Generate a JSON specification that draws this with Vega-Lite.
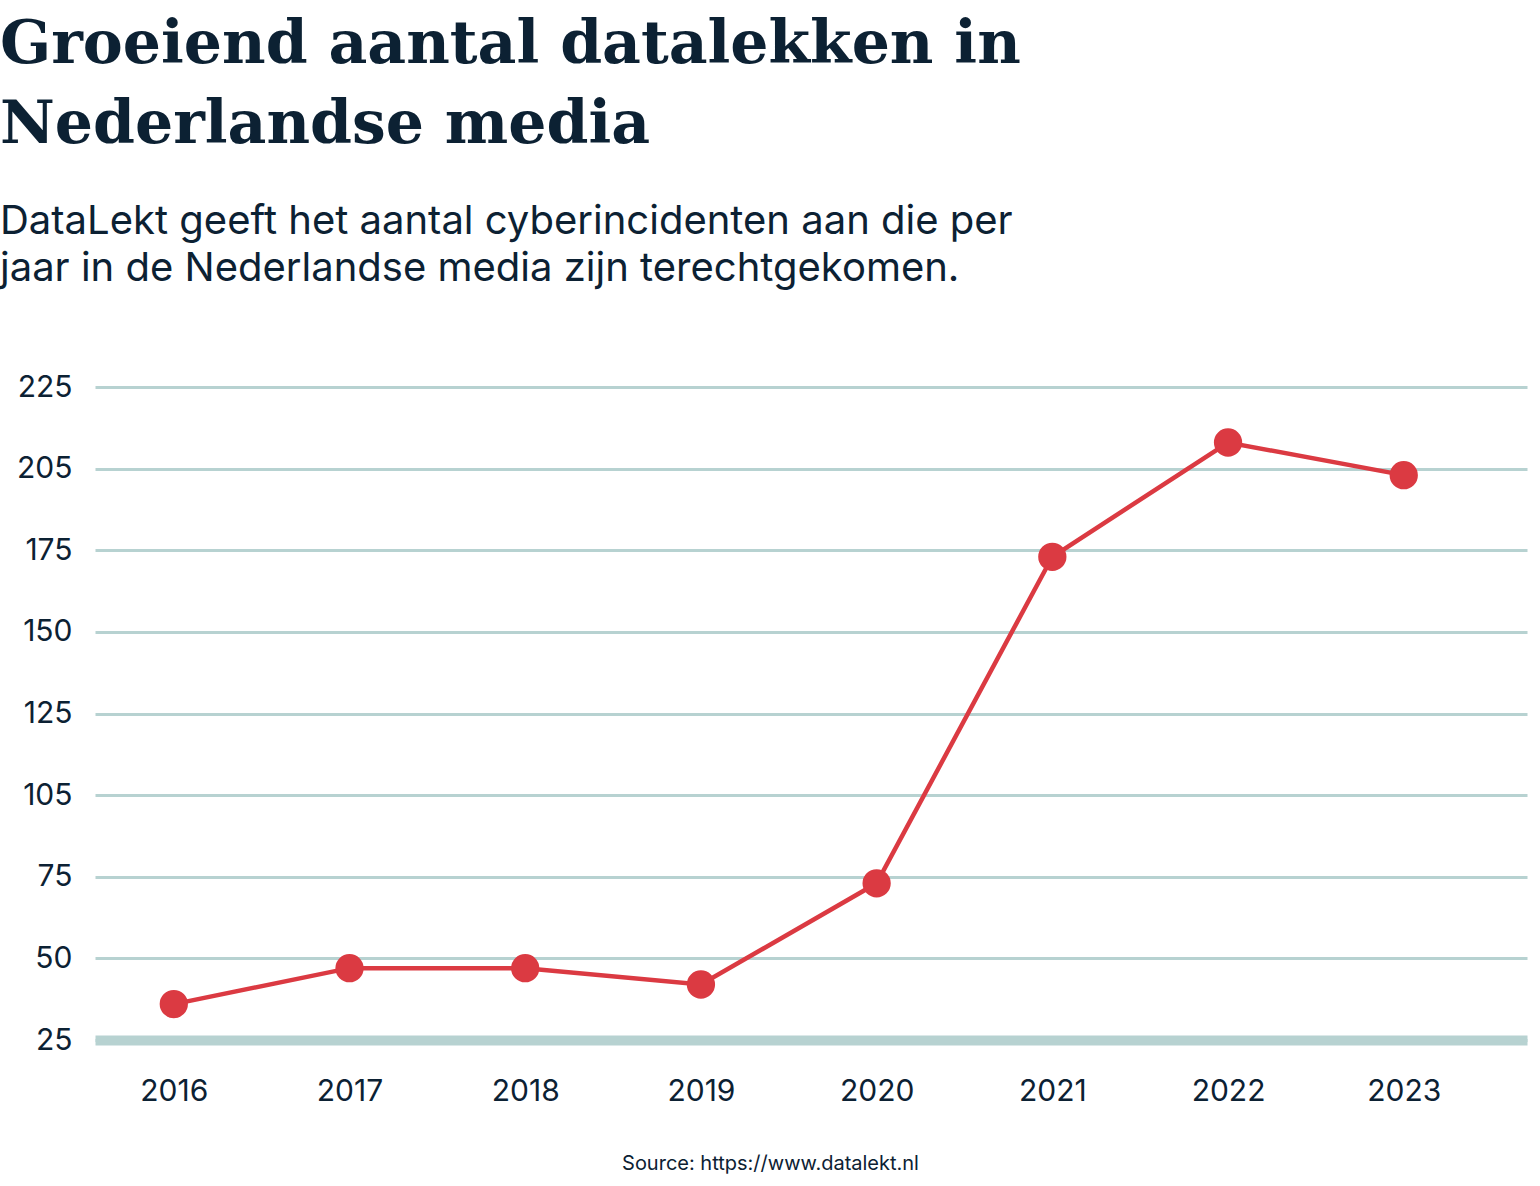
{
  "$schema": "https://vega.github.io/schema/vega-lite/v6.json",
  "autosize": {"type": "none"},
  "width": 1432,
  "height": 653,
  "padding": {"left": 95, "top": 387, "right": 13, "bottom": 146},
  "background": "white",
  "title": {
    "text": ["Groeiend aantal datalekken in", "Nederlandse media"],
    "subtitle": ["DataLekt geeft het aantal cyberincidenten aan die per", "jaar in de Nederlandse media zijn terechtgekomen."],
    "anchor": "start",
    "frame": "group",
    "dx": -95,
    "offset": 82,
    "font": "DejaVu Serif",
    "fontSize": 60,
    "fontWeight": "bold",
    "lineHeight": 80,
    "color": "#0c2133",
    "subtitleFont": "Inter",
    "subtitleFontSize": 40,
    "subtitleLineHeight": 47,
    "subtitleColor": "#0c2133",
    "subtitlePadding": 46
  },
  "data": {
    "values": [
      {"Jaar": "2016", "Aantal": 36},
      {"Jaar": "2017", "Aantal": 47},
      {"Jaar": "2018", "Aantal": 47},
      {"Jaar": "2019", "Aantal": 42},
      {"Jaar": "2020", "Aantal": 73},
      {"Jaar": "2021", "Aantal": 173},
      {"Jaar": "2022", "Aantal": 208},
      {"Jaar": "2023", "Aantal": 198}
    ]
  },
  "encoding": {
    "x": {
      "field": "Jaar",
      "type": "ordinal",
      "scale": {"type": "point", "padding": 0.575, "align": 0.39},
      "axis": {
        "title": "Source: https://www.datalekt.nl",
        "titleFont": "Inter",
        "titleFontSize": 20,
        "titleFontWeight": "normal",
        "titleColor": "#0c2133",
        "titleX": 675,
        "titleY": 123,
        "titleBaseline": "middle",
        "titleAnchor": "middle",
        "titleAlign": "center",
        "labelAngle": 0,
        "labelFont": "Inter",
        "labelFontSize": 30,
        "labelColor": "#0c2133",
        "labelPadding": 36,
        "ticks": false,
        "domainColor": "#b7d2d1",
        "domainWidth": 10,
        "grid": false
      }
    },
    "y": {
      "field": "Aantal",
      "type": "quantitative",
      "scale": {"domain": [25, 225], "nice": false, "zero": false},
      "axis": {
        "title": null,
        "values": [25, 50, 75, 100, 125, 150, 175, 200, 225],
        "labelExpr": "datum.value == 100 ? '105' : datum.value == 200 ? '205' : datum.label",
        "labelFont": "Inter",
        "labelFontSize": 30,
        "labelColor": "#0c2133",
        "labelPadding": 23,
        "ticks": false,
        "domain": false,
        "gridColor": "#b7d2d1",
        "gridWidth": 3
      }
    }
  },
  "layer": [
    {"mark": {"type": "line", "color": "#db3a42", "strokeWidth": 4.5}},
    {"mark": {"type": "circle", "color": "#db3a42", "opacity": 1, "size": 800}}
  ],
  "config": {"view": {"stroke": null}}
}
